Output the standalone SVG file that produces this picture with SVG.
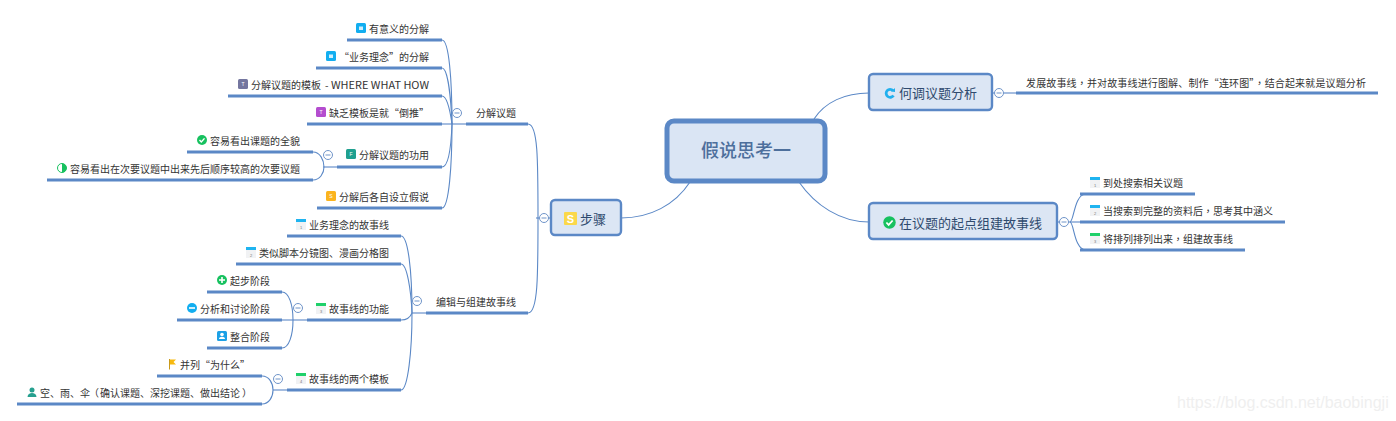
<svg xmlns="http://www.w3.org/2000/svg" width="1396" height="421" viewBox="0 0 1396 421">
<style>
text{font-family:"Noto Sans CJK SC","Liberation Sans",sans-serif;font-size:10px;fill:#333}
.u{stroke:#5b88c6;stroke-width:3;fill:none}
.c{stroke:#5b88c6;stroke-width:1.1;fill:none}
.b{fill:#dce6f4;stroke:#5b88c6;stroke-width:2.4}
.t{font-size:13px;fill:#2f4a6e}
.cl{fill:#fff;stroke:#6f94c9;stroke-width:1}
.m{stroke:#6f94c9;stroke-width:1}
.g{font-size:5px;fill:#fff;text-anchor:middle;font-family:"Liberation Sans",sans-serif}
.n{font-size:4px;fill:#777;text-anchor:middle;font-family:"Liberation Sans",sans-serif}
.p{font-family:"Noto Sans CJK TC",sans-serif}
</style>
<defs>
<g id="col"><circle r="4.5" class="cl"/><path d="M-2.5 0H2.5" class="m"/></g>
<g id="cal"><rect x="-5" y="-5" width="10" height="10" fill="#f1f2f4"/></g>
<g id="check"><circle r="5" fill="#17c15f"/><path d="M-2.5 0L-.7 1.9L2.500-1.600" stroke="#fff" stroke-width="1.400" fill="none"/></g>
</defs>
<g id="connectors">
<path class="c" d="M690 182C675 205 650 218 621 218"/>
<path class="c" d="M814 119C825 102 845 93 869 93"/>
<path class="c" d="M799 182C815 205 840 222 869 222"/>
<path class="c" d="M992 93H1016"/>
<path class="c" d="M1057 222H1080"/>
<path class="c" d="M1070 222C1074 222 1074 194 1086 194H1080"/>
<path class="c" d="M1070 222C1074 222 1074 250 1086 250H1080"/>
<path class="c" d="M551 218H536"/>
<path class="c" d="M528 124C538 124 538 160 538 218C538 276 538 313 528 313"/>
<path class="c" d="M466 124H442"/>
<path class="c" d="M442 40C449 40 452 80 452 124C452 165 449 208 442 208"/>
<path class="c" d="M442 68C448 68 451 100 452 124"/>
<path class="c" d="M442 96C447 96 450 110 452 124"/>
<path class="c" d="M442 167C448 167 451 150 452 124"/>
<path class="c" d="M337 167H323"/>
<path class="c" d="M313 152C320 152 324 160 324 167C324 173 320 180 313 180"/>
<path class="c" d="M426 313H412"/>
<path class="c" d="M401 236C408 236 412 270 412 313C412 350 408 390 401 390"/>
<path class="c" d="M401 264C407 264 411 290 412 313"/>
<path class="c" d="M401 320C406 320 410 318 412 313"/>
<path class="c" d="M307 320H293"/>
<path class="c" d="M282 292C289 292 293 305 293 320C293 335 289 348 282 348"/>
<path class="c" d="M282 320H293"/>
<path class="c" d="M287 390H273"/>
<path class="c" d="M262 376C269 376 273 383 273 390C273 397 269 404 262 404"/>
</g>
<g id="root"><rect x="667" y="121" width="158" height="60" rx="7" fill="#dae5f4" stroke="#5b88c6" stroke-width="5"/><text x="746" y="157" text-anchor="middle" style="font-size:18px;fill:#4d6f9c;font-weight:500">假说思考一</text></g>
<g id="n-steps"><rect class="b" x="551" y="200" width="70" height="35" rx="4"/><rect x="564" y="212" width="13" height="13" rx="1" fill="#fbd84a"/><text class="g" x="570.500" y="223" style="font-size:11px;font-weight:700">S</text><text class="t" x="580" y="224">步骤</text><use href="#col" x="544" y="218"/></g>
<g id="n-what"><rect class="b" x="869" y="74" width="123" height="36" rx="4"/><path d="M893 90.500A4 4 0 1 0 893.500 95.500" fill="none" stroke="#22b0ee" stroke-width="2.800"/><path d="M891 91.500L895 92V88Z" fill="#22b0ee"/><text class="t" x="899" y="98">何调议题分析</text><use href="#col" x="999" y="93"/></g>
<g id="n-start"><rect class="b" x="869" y="203" width="188" height="36" rx="4"/><use href="#check" transform="translate(889.500 222.500) scale(1.250)"/><text class="t" x="899" y="228">在议题的起点组建故事线</text><use href="#col" x="1064" y="222"/></g>
<g id="n-what1"><path class="u" d="M1016 93H1378"/><text x="1026" y="87" textLength="340">发展故事线<tspan class="p">，</tspan>并对故事线进行图解、制作“连环图”<tspan class="p">，</tspan>结合起来就是议题分析</text></g>
<g id="n-s1"><path class="u" d="M1080 194H1195"/><use href="#cal" x="1095" y="183"/><rect x="1090" y="177" width="10" height="3" fill="#1fb4f0"/><text class="n" x="1095" y="187">1</text><text x="1103" y="187">到处搜索相关议题</text></g>
<g id="n-s2"><path class="u" d="M1080 222H1285"/><use href="#cal" x="1095" y="211"/><rect x="1090" y="205" width="10" height="3" fill="#1fb4f0"/><text class="n" x="1095" y="215">2</text><text x="1103" y="215">当搜索到完整的资料后<tspan class="p">，</tspan>思考其中涵义</text></g>
<g id="n-s3"><path class="u" d="M1080 250H1245"/><use href="#cal" x="1095" y="239"/><rect x="1090" y="233" width="10" height="3" fill="#1fd06a"/><text class="n" x="1095" y="243">3</text><text x="1103" y="243">将排列排列出来<tspan class="p">，</tspan>组建故事线</text></g>
<g id="n-decomp"><path class="u" d="M466 124H528"/><text x="476" y="117">分解议题</text><use href="#col" x="457" y="113"/></g>
<g id="n-d1"><path class="u" d="M347 40H442"/><rect x="356" y="23" width="10" height="10" rx="1.500" fill="#12aef0"/><rect x="359" y="26.500" width="4" height="3.500" fill="#cfeefc"/><text x="369" y="33">有意义的分解</text></g>
<g id="n-d2"><path class="u" d="M316 68H442"/><rect x="326" y="51" width="10" height="10" rx="1.500" fill="#12aef0"/><rect x="329" y="54.500" width="4" height="3.500" fill="#cfeefc"/><text x="339" y="61">“业务理念”的分解</text></g>
<g id="n-d3"><path class="u" d="M228 96H442"/><rect x="238" y="79" width="10" height="10" rx="1.500" fill="#74769f"/><text class="g" x="243" y="86">T</text><text x="251" y="89">分解议题的模板<tspan x="325">-</tspan><tspan x="331" textLength="98" lengthAdjust="spacingAndGlyphs">WHERE WHAT HOW</tspan></text></g>
<g id="n-d4"><path class="u" d="M307 124H442"/><rect x="316" y="107" width="10" height="10" rx="1.500" fill="#b44dcf"/><text class="g" x="321" y="114">T</text><text x="329" y="117">缺乏模板是就“倒推”</text></g>
<g id="n-d5"><path class="u" d="M337 167H442"/><rect x="346" y="149" width="10" height="10" rx="1.500" fill="#1fa08f"/><text class="g" x="351" y="156">F</text><text x="359" y="159">分解议题的功用</text><use href="#col" x="328" y="155"/></g>
<g id="n-d51"><path class="u" d="M187 152H313"/><use href="#check" x="202" y="140"/><text x="210" y="145">容易看出课题的全貌</text></g>
<g id="n-d52"><path class="u" d="M47 180H313"/><circle cx="62" cy="168" r="4.500" fill="#fff" stroke="#17c15f"/><path d="M62 163.500A4.500 4.500 0 0 1 62 172.500Z" fill="#17c15f"/><text x="70" y="173">容易看出在次要议题中出来先后顺序较高的次要议题</text></g>
<g id="n-d6"><path class="u" d="M317 208H442"/><rect x="326" y="191" width="10" height="10" rx="1.500" fill="#fbb41e"/><text class="g" x="331" y="198">S</text><text x="339" y="201">分解后各自设立假说</text></g>
<g id="n-edit"><path class="u" d="M426 313H528"/><text x="436" y="306">编辑与组建故事线</text><use href="#col" x="417" y="301"/></g>
<g id="n-e1"><path class="u" d="M287 236H401"/><use href="#cal" x="301" y="225"/><rect x="296" y="219" width="10" height="3" fill="#1fb4f0"/><text class="n" x="301" y="229">1</text><text x="309" y="229">业务理念的故事线</text></g>
<g id="n-e2"><path class="u" d="M236 264H401"/><use href="#cal" x="251" y="253"/><rect x="246" y="247" width="10" height="3" fill="#1fb4f0"/><text class="n" x="251" y="257">2</text><text x="259" y="257">类似脚本分镜图、漫画分格图</text></g>
<g id="n-e3"><path class="u" d="M307 320H401"/><use href="#cal" x="321" y="309"/><rect x="316" y="303" width="10" height="3" fill="#1fd06a"/><text class="n" x="321" y="313">3</text><text x="329" y="313">故事线的功能</text><use href="#col" x="298" y="308"/></g>
<g id="n-e31"><path class="u" d="M207 292H282"/><circle cx="222" cy="280" r="5" fill="#17c15f"/><path d="M219 280H225M222 277V283" stroke="#fff" stroke-width="1.600"/><text x="230" y="285">起步阶段</text></g>
<g id="n-e32"><path class="u" d="M177 320H282"/><circle cx="192" cy="308" r="5" fill="#12aef0"/><path d="M189 308H195" stroke="#fff" stroke-width="1.600"/><text x="200" y="313">分析和讨论阶段</text></g>
<g id="n-e33"><path class="u" d="M207 348H282"/><rect x="217" y="331" width="10" height="10" rx="1.500" fill="#1da1e6"/><circle cx="222" cy="334.500" r="1.800" fill="#fff"/><path d="M219 339C219 336 225 336 225 339Z" fill="#fff"/><text x="230" y="341">整合阶段</text></g>
<g id="n-e4"><path class="u" d="M287 390H401"/><use href="#cal" x="301" y="379"/><rect x="296" y="373" width="10" height="3" fill="#1fd06a"/><text class="n" x="301" y="383">4</text><text x="309" y="383">故事线的两个模板</text><use href="#col" x="278" y="379"/></g>
<g id="n-e41"><path class="u" d="M157 376H262"/><path d="M169.500 359V369.500" stroke="#c99a1a" stroke-width="1"/><path d="M170 359.500H176L173.500 362L176 364.500H170Z" fill="#f7b90f"/><text x="180" y="369">并列“为什么”</text></g>
<g id="n-e42"><path class="u" d="M17 404H262"/><circle cx="32" cy="390" r="2.500" fill="#26a08f"/><path d="M27.500 397C27.500 391.500 36.500 391.500 36.500 397Z" fill="#26a08f"/><text x="40" y="397">空、雨、伞<tspan x="89">（</tspan><tspan x="100">确认课题、深挖课题、做出结论</tspan><tspan x="242">）</tspan></text></g>
<text x="1177" y="408" style="font-family:'Liberation Sans',sans-serif;font-size:16px;fill:#efefef">https://blog.csdn.net/baobingji</text>
</svg>
